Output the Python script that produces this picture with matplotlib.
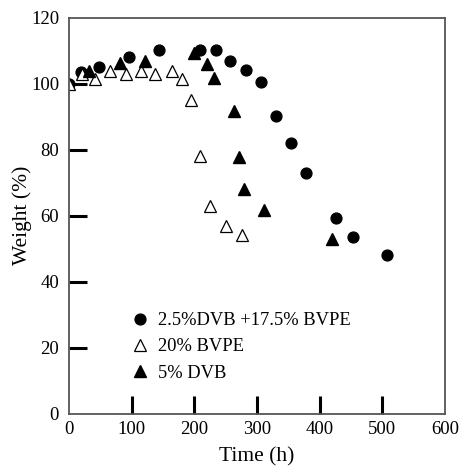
import matplotlib.pyplot as plt

# Data
circle_x = [0, 20, 48, 96, 144, 209, 235, 257, 283, 306, 331, 354, 378, 426, 453, 507]
circle_y = [100, 103.5, 105, 108.2, 110.2, 110.2, 110.2, 107, 104.3, 100.4, 90.1, 82.2, 73.1, 59.4, 53.6, 48.2]

open_tri_x = [1, 21, 41, 65, 91, 115, 137, 165, 180, 195, 209, 225, 250, 276]
open_tri_y = [100, 103, 101.4, 104, 103, 104, 103, 104, 101.5, 95, 78, 63.1, 56.9, 54.1]

fill_tri_x = [32, 82, 122, 200, 220, 232, 264, 271, 280, 311, 420]
fill_tri_y = [104, 106.2, 106.9, 109.2, 106, 101.7, 91.7, 77.9, 68.1, 61.7, 53]

labels = ['2.5%DVB +17.5% BVPE', '20% BVPE', '5% DVB']
x_ticks = [0, 100, 200, 300, 400, 500, 600]
y_ticks = [0, 20, 40, 60, 80, 100, 120]

plt.rcParams['font.family'] = ['Liberation Serif', 'DejaVu Serif']

fig = plt.figure(figsize=(4.62, 4.68), dpi=100)
ax = fig.add_axes([0.149, 0.116, 0.814, 0.846])

ax.plot(circle_x, circle_y, 'o', color='black', markersize=7.8, linestyle='none', label=labels[0])
ax.plot(open_tri_x, open_tri_y, '^', markerfacecolor='white', markeredgecolor='black',
        markeredgewidth=0.9, markersize=8.5, linestyle='none', label=labels[1])
ax.plot(fill_tri_x, fill_tri_y, '^', color='black', markersize=8.5, linestyle='none', label=labels[2])

ax.set_xlim(0, 600)
ax.set_ylim(0, 120)
ax.set_xticks(x_ticks)
ax.set_yticks(y_ticks)
ax.tick_params(direction='in', length=13, width=2.2, labelsize=13.5, colors='black')
ax.tick_params(axis='x', pad=5)
ax.tick_params(axis='y', pad=7)
# no tick marks at the axis ends
for t in ax.xaxis.get_major_ticks()[::6] + ax.yaxis.get_major_ticks()[::6]:
    t.tick1line.set_visible(False)

for s in ax.spines.values():
    s.set_color('#555555')
    s.set_linewidth(1.3)

ax.set_xlabel('Time (h)', fontsize=15.5, labelpad=7)
ax.set_ylabel('Weight (%)', fontsize=15.5, labelpad=-1)

ax.legend(loc='upper left', bbox_to_anchor=(0.14, 0.275), frameon=False, fontsize=13.3,
          handletextpad=0.35, labelspacing=0.5, handlelength=1.2, borderaxespad=0)

fig.savefig('out.png', dpi=100)
